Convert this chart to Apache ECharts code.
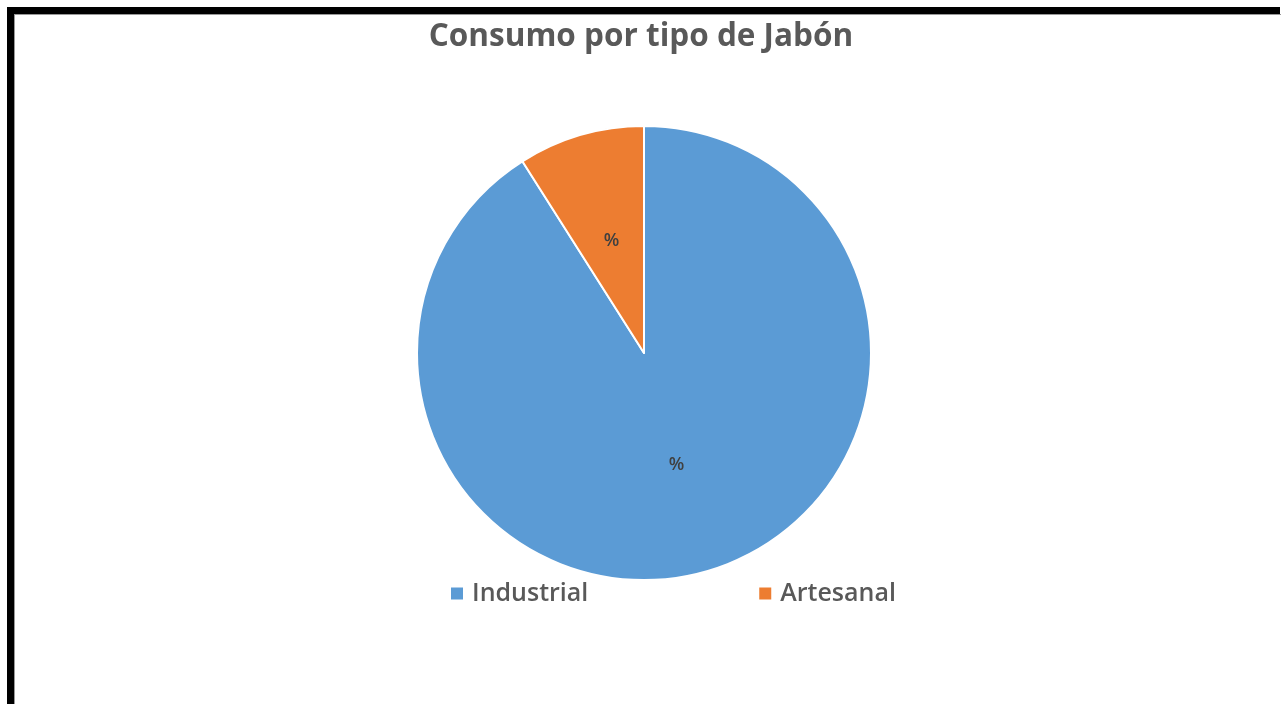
<!DOCTYPE html>
<html>
<head>
<meta charset="utf-8">
<script src="https://cdn.jsdelivr.net/npm/echarts@6/dist/echarts.min.js"></script>
<style>
  html, body { margin: 0; padding: 0; background: #fff; }
  #chart { position: absolute; left: 0; top: 0; width: 1282px; height: 704px; }
  .frame { position: absolute; left: 7px; top: 7px; width: 1266px; height: 720px;
           border-left: 7px solid #000; border-top: 7px solid #000; pointer-events: none; }
  .frame div { width: 100%; height: 100%; border-left: 1px solid #999; border-top: 1px solid #999; }
</style>
</head>
<body>
<div id="chart"></div>
<div class="frame"><div></div></div>
<script>
const categories = ['Industrial', 'Artesanal'];
const values = [91, 9];
const colors = ['#5B9BD5', '#ED7D31'];

const myChart = echarts.init(document.getElementById('chart'));

myChart.setOption({
  title: {
    text: 'Consumo por tipo de Jabón',
    left: 'center',
    top: 16,
    textStyle: { fontFamily: 'Open Sans', fontWeight: 'bold', fontSize: 31.5, color: '#595959' }
  },
  legend: {
    data: categories,
    bottom: 98,
    left: 449,
    padding: 0,
    itemWidth: 14,
    itemHeight: 14,
    itemGap: 169,
    icon: 'rect',
    textStyle: { fontFamily: 'Open Sans', fontWeight: 600, fontSize: 25, color: '#595959', padding: [0, 0, 0, 3] }
  },
  series: [
    {
      name: 'Consumo',
      type: 'pie',
      center: [644, 353],
      radius: 227,
      startAngle: 90,
      clockwise: true,
      itemStyle: { borderColor: '#fff', borderWidth: 2 },
      label: {
        show: true,
        position: 'inside',
        formatter: '%',
        fontFamily: 'Open Sans',
        fontWeight: 600,
        fontSize: 18,
        color: '#404040'
      },
      labelLine: { show: false },
      data: categories.map((c, i) => ({ name: c, value: values[i], itemStyle: { color: colors[i] } }))
    }
  ]
});
</script>
</body>
</html>
